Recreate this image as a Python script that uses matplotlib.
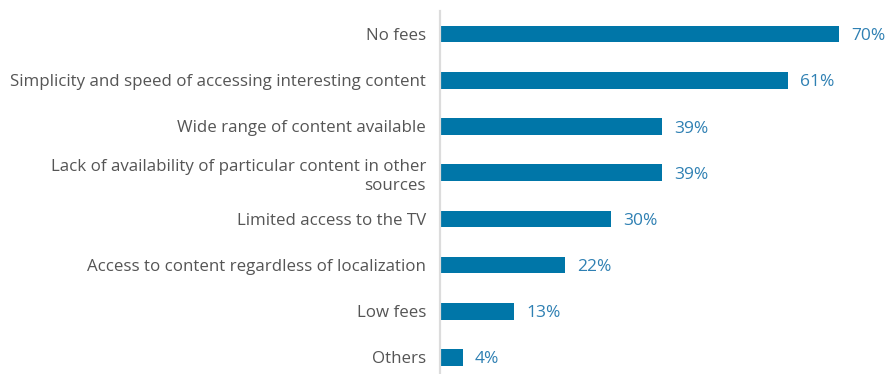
import matplotlib.pyplot as plt

# reasons for choosing the service, share of respondents (%)
categories = [
    "No fees",
    "Simplicity and speed of accessing interesting content",
    "Wide range of content available",
    "Lack of availability of particular content in other\nsources",
    "Limited access to the TV",
    "Access to content regardless of localization",
    "Low fees",
    "Others",
]
values = [70, 61, 39, 39, 30, 22, 13, 4]

bar_color = "#0076a8"
value_color = "#2f80b3"
label_color = "#555555"

plt.rcParams["font.family"] = ["Open Sans", "DejaVu Sans"]

fig = plt.figure(figsize=(8.86, 3.74), dpi=100)
ax = fig.add_axes([440 / 886, 0, 446 / 886, 363 / 374])

pos = list(range(len(categories)))
ax.barh(pos, values, height=0.36, color=bar_color)

ax.set_xlim(0, 78.2)
ax.set_ylim(7.36, -0.5)

ax.set_yticks(pos)
ax.set_yticklabels(categories, fontsize=12.2, color=label_color,
                   linespacing=1.3, multialignment="right")
ax.tick_params(axis="y", length=0, pad=10)
ax.set_xticks([])

for spine in ["top", "right", "bottom"]:
    ax.spines[spine].set_visible(False)
ax.spines["left"].set_color("#dcdcdc")
ax.spines["left"].set_linewidth(1.6)

# percentage labels next to each bar
for p, v in zip(pos, values):
    ax.annotate(f"{v}%", (v, p), xytext=(8.5, -1.5), textcoords="offset points",
                ha="left", va="center", fontsize=12.5, color=value_color)

fig.savefig("out.png", dpi=100)
